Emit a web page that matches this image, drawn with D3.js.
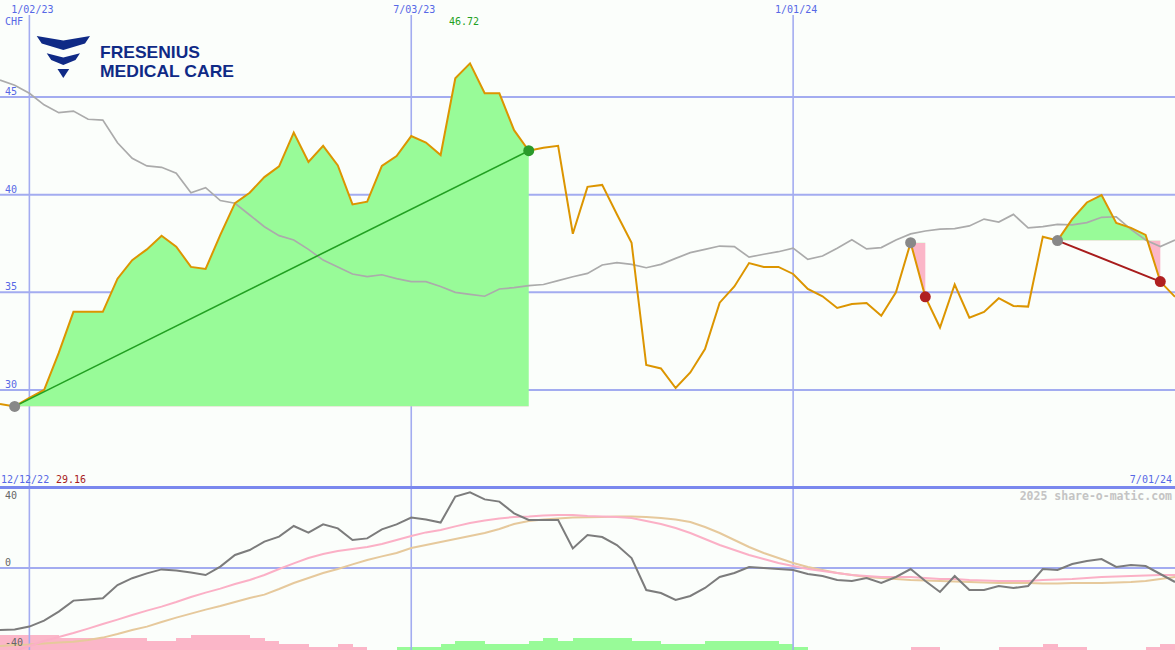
<!DOCTYPE html>
<html><head><meta charset="utf-8">
<script src="https://cdn.jsdelivr.net/npm/d3@7"></script>
<style>body{margin:0;background:#fbfefb}svg{display:block}</style>
</head><body><svg id="c" width="1175" height="650"></svg>
<script>
// ---- DATA ----
const startDate = new Date(2022, 11, 19), endDate = new Date(2024, 6, 2);
const dates = d3.timeMonday.range(startDate, endDate); // weekly points
const price = [29.28,29.16,29.6,30.0,31.9,34.0,34.0,34.0,35.7,36.65,
  37.2,37.9,37.34,36.3,36.2,37.94,39.57,40.1,40.9,41.45,
  43.18,41.67,42.5,41.5,39.5,39.64,41.47,41.98,43.0,42.67,
  42.03,45.96,46.72,45.19,45.19,43.3,42.25,42.4,42.5,38.0,
  40.4,40.5,39.0,37.54,31.28,31.1,30.1,30.9,32.1,34.47,
  35.3,36.5,36.3,36.3,35.94,35.17,34.8,34.2,34.4,34.45,
  33.8,35.0,37.54,34.77,33.2,35.4,33.7,34.0,34.7,34.3,
  34.27,37.85,37.65,38.75,39.6,39.98,38.55,38.3,37.94,35.55,34.77];
const compare = [45.87,45.6,45.19,44.6,44.2,44.28,43.86,43.82,42.66,41.86,
  41.47,41.4,41.1,40.1,40.36,39.7,39.56,38.96,38.36,37.9,
  37.68,37.2,36.65,36.3,35.94,35.8,35.9,35.7,35.55,35.55,
  35.3,35.0,34.9,34.8,35.17,35.24,35.34,35.4,35.6,35.8,
  35.97,36.4,36.52,36.43,36.26,36.43,36.74,37.03,37.2,37.37,
  37.34,36.8,36.95,37.08,37.26,36.69,36.86,37.26,37.69,37.22,
  37.29,37.68,37.99,38.14,38.24,38.26,38.4,38.75,38.6,38.99,
  38.3,38.36,38.48,38.45,38.57,38.84,38.87,38.22,37.68,37.34,37.68];
const momentum = [-31,-30.7,-29.3,-26.3,-21.8,-16.3,-15.7,-15.1,-8.5,-5.1,
  -2.7,-0.7,-1.3,-2.3,-3.5,0.7,6.5,9,13.2,15.7,
  21,17.7,21.8,19.8,14,14.8,19.3,21.8,25.2,24.3,
  22.7,35.7,37.8,34.3,33.2,27.3,24,24,24,9.8,
  16.5,15.5,11.5,5,-11,-12.5,-16,-14,-10,-4.5,
  -2.5,0.5,0,-0.5,-1,-3,-4,-6,-6.5,-5,
  -7.5,-4.5,-0.5,-6.5,-12,-4,-11,-11,-9,-10,
  -9,-0.5,-1,2,3.5,4.5,0.5,1.5,1,-3,-7];
const maFast = [-43.5,-41.5,-39,-36.5,-34.5,-32.5,-30.3,-28,-25.8,-23.5,
  -21.3,-19.3,-17,-14.5,-12.3,-10.3,-8,-6,-3.5,-0.5,
  2.3,5,7,8.5,9.5,10.5,12,14,16,17.8,
  19,20.8,22.5,23.8,24.8,25.5,25.8,26.3,26.5,26.5,
  26,25.8,25.5,25,23.5,22,20,17.5,14.5,11.5,
  9,6.5,4.5,2.5,1,-0.5,-1.5,-2.5,-3.5,-4,
  -4.5,-4.5,-4.5,-5,-5.5,-5.5,-6,-6.3,-6.5,-6.5,
  -6.5,-6,-5.8,-5.5,-5,-4.5,-4.3,-4,-3.8,-3.5,-3.5];
const maSlow = [-39,-38.5,-38.3,-37.8,-37.3,-36.9,-36,-34.8,-33,-31,
  -29.3,-27,-24.8,-22.8,-20.8,-19,-17,-15,-13.3,-10.5,
  -7.5,-5,-2.5,-0.5,1.8,4,5.8,7.5,10,11.5,
  13,14.5,16,17.5,19.5,22,23.5,24.3,24.8,25.2,
  25.4,25.5,25.8,25.8,25.5,25,24.3,23,20.5,17.5,
  14,10.5,7.5,5,2.5,0.5,-1,-2.5,-3.5,-4.5,
  -5,-5.5,-6,-6.3,-6.5,-6.8,-7,-7.3,-7.5,-7.5,
  -7.5,-7.8,-7.8,-7.5,-7.5,-7.5,-7.3,-7,-6.5,-5.5,-4.5];
const histo = [-5,-5,-5,-5,-4,-4,-4,-4,-4,-4,
  -3,-3,-4,-5,-5,-5,-5,-4,-3,-2,
  -2,-1,-1,-2,-1,0,0,1,1,1,
  2,3,3,2,2,2,3,4,3,4,
  4,4,4,3,3,2,2,2,3,3,
  3,3,3,2,1,0,0,0,0,0,
  0,0,-1,-1,0,0,0,0,-1,-1,
  -1,-2,-1,-1,0,0,0,0,-1,-2];
const signals = [{from:1,to:36,trend:true},{from:62,to:63,trend:false},{from:72,to:79,trend:true}];
const xTickDates = [new Date(2023,0,2), new Date(2023,6,3), new Date(2024,0,1)];
const xTickLabels = ['1/02/23','7/03/23','1/01/24'];
const yTicks = [45,40,35,30];
const yTicksBottom = [40,0,-40];
const maxLabel = '46.72', startLabel = '29.16';
const bottomStartLabel = '12/12/22', bottomEndLabel = '7/01/24';

// ---- CHART ----
const W = 1175, H = 650;
const svg = d3.select('#c');
svg.append('rect').attr('width', W).attr('height', H).attr('fill', '#fbfefb');
const x = d3.scaleTime().domain([dates[0], dates[dates.length-1]]).range([0, W]);
const y = d3.scaleLinear().domain([30, 45]).range([390, 97]);
const yb = d3.scaleLinear().domain([-40, 40]).range([648, 488]);
const hb = d3.scaleLinear().domain([0, 5]).range([0, 15]);
const GRID = '#a3acf0', BLUE = '#5668e6', MONO = "'DejaVu Sans Mono', monospace";

// histogram bars
svg.append('g').selectAll('rect').data(histo.map((v,i)=>({v,i}))).join('rect')
  .attr('x', d => x(dates[d.i])).attr('width', d => x(dates[d.i+1]) - x(dates[d.i]) + 0.3)
  .attr('y', d => H - hb(Math.abs(d.v))).attr('height', d => hb(Math.abs(d.v)))
  .attr('fill', d => d.v < 0 ? '#fbb6c8' : '#98fb98')
  .attr('shape-rendering', 'crispEdges');

// horizontal grid (top)
svg.append('g').selectAll('line').data(yTicks).join('line')
  .attr('x1', 0).attr('x2', W).attr('y1', d => y(d)).attr('y2', d => y(d))
  .attr('stroke', GRID).attr('stroke-width', 2);
// bottom zero line
svg.append('line').attr('x1', 0).attr('x2', W).attr('y1', yb(0)).attr('y2', yb(0))
  .attr('stroke', GRID).attr('stroke-width', 2);
// vertical grid
svg.append('g').selectAll('line').data(xTickDates).join('line')
  .attr('x1', d => x(d)).attr('x2', d => x(d)).attr('y1', 15).attr('y2', H)
  .attr('stroke', GRID).attr('stroke-width', 1.6);
// separator
svg.append('line').attr('x1', 0).attr('x2', W).attr('y1', 487.5).attr('y2', 487.5)
  .attr('stroke', '#7a88ee').attr('stroke-width', 3);

// signal areas
const defs = svg.append('defs');
signals.forEach((s, k) => {
  const base = price[s.from];
  const yBase = y(base);
  const pts = d3.range(s.from, s.to + 1);
  const area = d3.area().x(i => x(dates[i])).y0(yBase).y1(i => y(price[i]));
  defs.append('clipPath').attr('id', 'up' + k).append('rect')
    .attr('x', 0).attr('y', 0).attr('width', W).attr('height', yBase);
  defs.append('clipPath').attr('id', 'dn' + k).append('rect')
    .attr('x', 0).attr('y', yBase).attr('width', W).attr('height', H - yBase);
  svg.append('path').attr('d', area(pts)).attr('fill', '#98fb98').attr('clip-path', `url(#up${k})`);
  svg.append('path').attr('d', area(pts)).attr('fill', '#fbb6c8').attr('clip-path', `url(#dn${k})`);
});

// lines
const line = arr => d3.line().x((d,i) => x(dates[i])).y(d => y(d))(arr);
const lineB = arr => d3.line().x((d,i) => x(dates[i])).y(d => yb(d))(arr);
svg.append('path').attr('d', lineB(maSlow)).attr('fill','none').attr('stroke','#e6c99c').attr('stroke-width',2);
svg.append('path').attr('d', lineB(maFast)).attr('fill','none').attr('stroke','#fbb0c6').attr('stroke-width',2);
svg.append('path').attr('d', lineB(momentum)).attr('fill','none').attr('stroke','#7c7c7c').attr('stroke-width',2);

svg.append('path').attr('d', line(compare)).attr('fill','none').attr('stroke','#ababab').attr('stroke-width',1.7);
svg.append('path').attr('d', line(price)).attr('fill','none').attr('stroke','#dc9500').attr('stroke-width',2);

// trend lines + markers
signals.forEach(s => {
  const gain = price[s.to] >= price[s.from];
  const col = gain ? '#22a022' : '#a81c1c';
  if (s.trend) {
    svg.append('line').attr('x1', x(dates[s.from])).attr('y1', y(price[s.from]))
      .attr('x2', x(dates[s.to])).attr('y2', y(price[s.to]))
      .attr('stroke', col).attr('stroke-width', gain ? 1.6 : 2);
  }
  svg.append('circle').attr('cx', x(dates[s.from])).attr('cy', y(price[s.from])).attr('r', 5.5).attr('fill', '#888');
  svg.append('circle').attr('cx', x(dates[s.to])).attr('cy', y(price[s.to])).attr('r', 5.5).attr('fill', gain ? '#2a9a2a' : '#b02020');
});

// labels
const txt = (t, xx, yy, col, anchor='start', size=10, weight='normal') =>
  svg.append('text').text(t).attr('x', xx).attr('y', yy).attr('fill', col)
    .attr('font-family', MONO).attr('font-size', size).attr('font-weight', weight).attr('text-anchor', anchor);
xTickDates.forEach((d, i) => txt(xTickLabels[i], x(d) + 3, 13, BLUE, 'middle'));
txt('CHF', 5, 25, BLUE);
yTicks.forEach(v => txt(String(v), 5, y(v) - 2, BLUE));
txt(maxLabel, 449, 25, '#22a022');
txt(bottomStartLabel, 1, 483, BLUE);
txt(startLabel, 56, 483, '#a81c1c');
txt(bottomEndLabel, 1172, 483, BLUE, 'end');
txt('2025 share-o-matic.com', 1172, 500, '#c4c4c4', 'end', 11.5, 'bold');
yTicksBottom.forEach(v => txt(String(v), 5, v === 40 ? 499 : yb(v) - 2, '#666'));

// logo
const logo = svg.append('g').attr('fill', '#0f2a86');
[[[36.7,36],[63.3,40.5],[90,36],[85,43.5],[63.3,50],[41.7,43.5]],
 [[46.7,53.3],[63.3,57.5],[80,53.3],[75.5,60],[63.3,65],[51.2,60]],
 [[57.5,69],[69.2,69],[63.3,78]]].forEach(p => logo.append('polygon').attr('points', p.join(' ')));
logo.append('text').text('FRESENIUS').attr('x', 100).attr('y', 57.8)
  .attr('font-family', '"Liberation Sans", Arial, sans-serif').attr('font-weight', 'bold').attr('font-size', 17)
  .attr('textLength', 100).attr('lengthAdjust', 'spacingAndGlyphs');
logo.append('text').text('MEDICAL CARE').attr('x', 100).attr('y', 77.2)
  .attr('font-family', '"Liberation Sans", Arial, sans-serif').attr('font-weight', 'bold').attr('font-size', 17)
  .attr('textLength', 134).attr('lengthAdjust', 'spacingAndGlyphs');
</script></body></html>
